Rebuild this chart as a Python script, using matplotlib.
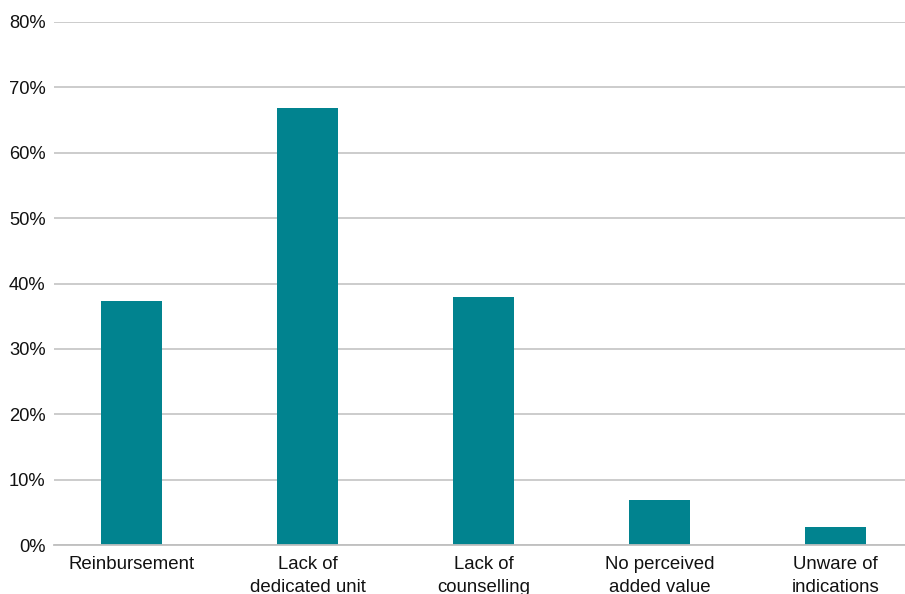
import matplotlib.pyplot as plt
from matplotlib.ticker import PercentFormatter

# reasons given, share of respondents
reasons = ["Reinbursement", "Lack of\ndedicated unit", "Lack of\ncounselling",
           "No perceived\nadded value", "Unware of\nindications"]
shares = [0.373, 0.668, 0.379, 0.069, 0.028]
yticks = [0.0, 0.1, 0.2, 0.3, 0.4, 0.5, 0.6, 0.7, 0.8]

plt.rcParams['font.family'] = ['Liberation Sans', 'DejaVu Sans']

fig = plt.figure(figsize=(9.05, 5.94), dpi=100)
ax = fig.add_axes([54 / 905, 49 / 594, 1 - 54 / 905, 523 / 594])

x = list(range(len(reasons)))
ax.bar(x, shares, width=0.347, color="#01838F", zorder=3)

ax.set_ylim(0, 0.8)
ax.set_xlim(-0.44, 4.395)
ax.set_yticks(yticks)
ax.yaxis.set_major_formatter(PercentFormatter(1.0, decimals=0))
ax.set_xticks(x)
ax.set_xticklabels(reasons, fontsize=13.4, linespacing=1.45, color="#111111")
ax.tick_params(axis="y", length=0, pad=6, labelsize=13.2, labelcolor="#111111")
ax.tick_params(axis="x", length=0, pad=8)

ax.grid(axis="y", color="#BFBFBF", linewidth=1.1, zorder=0)
for side in ["top", "right", "left"]:
    ax.spines[side].set_visible(False)
ax.spines["bottom"].set_color("#BFBFBF")
ax.spines["bottom"].set_linewidth(1.3)
ax.spines["bottom"].set_zorder(4)

fig.savefig("out.png", dpi=100)
